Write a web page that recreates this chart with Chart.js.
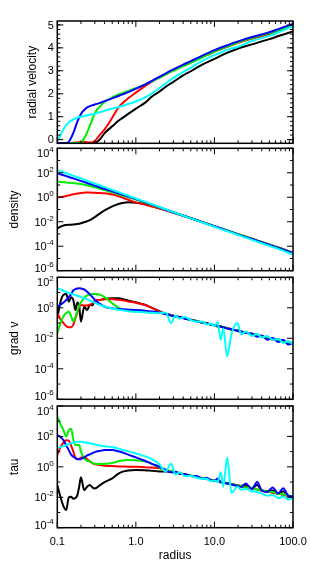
<!DOCTYPE html>
<html>
<head>
<meta charset="utf-8">
<script src="https://cdn.jsdelivr.net/npm/chart.js@4.4.1/dist/chart.umd.min.js"></script>
<style>
  html, body { margin: 0; padding: 0; background: #fff; }
  #wrap { position: relative; width: 311px; height: 568px; }
  #wrap canvas { position: absolute; left: 0; top: 0; }
</style>
</head>
<body>
<div id="wrap">
  <canvas id="velocity" width="311" height="568"></canvas>
  <canvas id="density" width="311" height="568"></canvas>
  <canvas id="gradv" width="311" height="568"></canvas>
  <canvas id="tau" width="311" height="568"></canvas>
</div>
<script>
// radius grid for the two smooth panels
const radius = [0.1, 0.11, 0.12, 0.13, 0.14, 0.16, 0.18, 0.2, 0.23, 0.26, 0.3, 0.35, 0.4, 0.5, 0.6, 0.7, 0.8, 1.0,
  1.3, 1.6, 2, 2.5, 3, 4, 5, 7, 10, 15, 20, 30, 50, 70, 100];

// radial velocity
const velBlack = [-0.15, -0.15, -0.15, -0.15, -0.15, -0.15, -0.15, -0.15, -0.15, -0.15, -0.14, 0.02, 0.28, 0.58, 0.82, 0.98, 1.12, 1.35,
  1.6, 1.88, 2.1, 2.35, 2.52, 2.8, 2.98, 3.27, 3.52, 3.8, 3.97, 4.15, 4.38, 4.55, 4.71];
const velRed = [-0.15, -0.15, -0.15, -0.15, -0.15, -0.14, -0.12, -0.1, -0.1, -0.12, -0.06, 0.22, 0.45, 0.95, 1.4, 1.63, 1.8, 2.05,
  2.33, 2.53, 2.72, 2.9, 3.02, 3.22, 3.37, 3.6, 3.83, 4.06, 4.22, 4.4, 4.6, 4.78, 4.97];
const velGreen = [-0.15, -0.15, -0.15, -0.15, -0.15, -0.15, -0.15, -0.13, 0.18, 0.6, 1.15, 1.45, 1.64, 1.84, 1.97, 2.05, 2.12, 2.24,
  2.4, 2.54, 2.7, 2.87, 3.0, 3.2, 3.35, 3.59, 3.84, 4.08, 4.24, 4.43, 4.64, 4.82, 5.0];
const velBlue = [-0.15, -0.15, -0.15, -0.15, -0.1, 0.29, 0.78, 1.12, 1.36, 1.46, 1.53, 1.6, 1.68, 1.8, 1.9, 1.99, 2.07, 2.22,
  2.4, 2.56, 2.74, 2.92, 3.06, 3.27, 3.42, 3.66, 3.9, 4.13, 4.28, 4.47, 4.68, 4.86, 5.04];
const velCyan = [-0.05, 0.2, 0.45, 0.63, 0.75, 0.88, 0.96, 1.0, 1.04, 1.08, 1.13, 1.2, 1.26, 1.35, 1.42, 1.49, 1.55, 1.66,
  1.83, 2.02, 2.25, 2.5, 2.68, 2.95, 3.14, 3.43, 3.68, 3.93, 4.05, 4.3, 4.52, 4.72, 4.95];

// density, log10
const densBlack = [-2.54, -2.4, -2.3, -2.27, -2.25, -2.22, -2.18, -2.12, -2.0, -1.86, -1.62, -1.31, -1.08, -0.75, -0.55, -0.44, -0.41, -0.45,
  -0.56, -0.7, -0.9, -1.1, -1.26, -1.52, -1.72, -2.04, -2.38, -2.76, -3.03, -3.4, -3.87, -4.19, -4.55];
const densRed = [0.0, 0.02, 0.05, 0.1, 0.15, 0.24, 0.3, 0.35, 0.38, 0.38, 0.36, 0.34, 0.32, 0.22, 0.08, -0.06, -0.2, -0.42,
  -0.6, -0.75, -0.92, -1.09, -1.24, -1.5, -1.71, -2.03, -2.37, -2.75, -3.02, -3.39, -3.86, -4.17, -4.52];
const densGreen = [1.27, 1.25, 1.23, 1.21, 1.19, 1.16, 1.13, 1.08, 1.0, 0.92, 0.82, 0.7, 0.59, 0.4, 0.25, 0.12, 0.01, -0.18,
  -0.42, -0.62, -0.84, -1.05, -1.22, -1.49, -1.7, -2.02, -2.36, -2.74, -3.01, -3.39, -3.86, -4.18, -4.53];
const densBlue = [1.96, 1.88, 1.8, 1.73, 1.66, 1.54, 1.43, 1.33, 1.2, 1.08, 0.95, 0.8, 0.68, 0.48, 0.32, 0.18, 0.06, -0.15,
  -0.4, -0.6, -0.82, -1.04, -1.22, -1.49, -1.71, -2.03, -2.37, -2.75, -3.03, -3.41, -3.89, -4.21, -4.56];
const densCyan = [2.23, 2.13, 2.05, 1.96, 1.89, 1.75, 1.64, 1.53, 1.39, 1.26, 1.12, 0.96, 0.83, 0.6, 0.42, 0.26, 0.12, -0.1,
  -0.36, -0.57, -0.8, -1.03, -1.21, -1.5, -1.73, -2.06, -2.41, -2.8, -3.08, -3.48, -3.97, -4.3, -4.68];

// finer radius grid for the noisy panels
const radiusFine = [0.1, 0.11, 0.12, 0.13, 0.14, 0.15, 0.16, 0.17, 0.18, 0.19, 0.2, 0.22, 0.24, 0.26, 0.28, 0.3, 0.35, 0.4,
  0.5, 0.6, 0.7, 0.8, 1.0, 1.3, 1.6, 2.0, 2.4, 2.8, 3.2, 3.6, 4.2, 5, 6, 7, 8, 9, 10, 11, 12, 13, 14.5, 16.5, 19.6,
  22, 25, 30, 35, 40, 47, 55, 65, 75, 87, 100];

// grad v, log10
const gradBlack = [-0.69, 0.4, 0.85, 0.9, 0.4, 0.7, 0.5, -0.15, 0.35, 0.1, -0.91, 0.07, -0.15, 0.2, 0.15, 0.45, 0.52, 0.58,
  0.62, 0.62, 0.55, 0.47, 0.36, 0.2, 0.0, -0.22, -0.42, -0.5, -0.54, -0.63, -0.68, -0.8, -0.86, -0.98, -1.0, -1.12, -1.12,
  -1.24, -1.2, -1.32, -1.3, -1.45, -1.45, -1.6, -1.58, -1.76, -1.75, -1.92, -1.9, -2.1, -2.05, -2.25, -2.22, -2.38];
const gradRed = [-0.36, -0.75, -1.0, -1.2, -1.28, -1.28, -1.1, -0.7, -0.3, 0.05, 0.18, 0.15, 0.15, 0.2, 0.3, 0.45, 0.52, 0.56,
  0.56, 0.52, 0.47, 0.42, 0.33, 0.18, 0.0, -0.25, -0.38, -0.47, -0.56, -0.61, -0.7, -0.79, -0.88, -0.96, -1.03, -1.09, -1.15,
  -1.2, -1.24, -1.28, -1.34, -1.41, -1.5, -1.56, -1.63, -1.72, -1.8, -1.87, -1.96, -2.04, -2.13, -2.2, -2.28, -2.35];
const gradGreen = [-1.67, -1.0, -0.55, -0.35, -0.25, -0.55, -0.9, -0.6, -0.2, 0.15, 0.35, 0.65, 0.82, 0.86, 0.9, 0.9, 0.86, 0.7,
  0.3, 0.0, -0.15, -0.2, -0.25, -0.28, -0.3, -0.3, -0.42, -0.48, -0.58, -0.6, -0.7, -0.8, -0.86, -0.98, -1.02, -1.1, -1.13,
  -1.22, -1.22, -1.3, -1.33, -1.43, -1.48, -1.58, -1.6, -1.75, -1.78, -1.9, -1.92, -2.08, -2.1, -2.25, -2.25, -2.35];
const gradBlue = [0.07, 0.2, 0.35, 0.51, 0.7, 0.9, 1.15, 1.22, 1.26, 1.28, 1.27, 1.2, 1.05, 0.88, 0.7, 0.52, 0.25, 0.07,
  -0.03, -0.08, -0.1, -0.12, -0.15, -0.2, -0.25, -0.32, -0.4, -0.5, -0.55, -0.6, -0.72, -0.78, -0.9, -0.95, -1.05, -1.08, -1.17,
  -1.18, -1.25, -1.27, -1.36, -1.4, -1.52, -1.55, -1.66, -1.68, -1.9, -1.82, -2.1, -1.98, -2.25, -2.1, -2.4, -2.3];
const gradCyan = [1.28, 1.2, 1.12, 1.05, 0.98, 0.93, 0.88, 0.83, 0.79, 0.75, 0.71, 0.63, 0.55, 0.47, 0.4, 0.33, 0.18, 0.08,
  -0.05, -0.13, -0.18, -0.22, -0.26, -0.3, -0.33, -0.36, -0.3, -1.0, -0.5, -0.72, -0.6, -0.8, -0.92, -0.9, -1.1, -1.05, -1.2,
  -0.95, -2.1, -1.35, -3.2, -1.7, -1.0, -1.75, -1.55, -1.85, -1.7, -1.95, -1.85, -2.1, -2.05, -2.3, -2.2, -2.4];

// tau, log10
const tauBlack = [-1.2, -2.0, -2.6, -2.84, -2.0, -1.97, -2.1, -2.05, -1.86, -1.3, -0.69, -1.53, -1.3, -1.2, -1.35, -1.42, -1.2, -1.0,
  -0.76, -0.45, -0.3, -0.24, -0.21, -0.22, -0.26, -0.3, -0.3, -0.32, -0.4, -0.42, -0.5, -0.6, -0.65, -0.75, -0.78, -0.87, -0.88,
  -0.85, -1.0, -1.02, -1.1, -1.13, -1.22, -1.26, -1.2, -1.42, -1.2, -1.56, -1.6, -1.55, -1.78, -1.6, -1.92, -1.97];
const tauRed = [0.78, 1.3, 1.6, 1.75, 1.72, 1.4, 1.0, 0.6, 0.5, 0.52, 0.6, 0.66, 0.5, 0.36, 0.25, 0.18, 0.12, 0.08,
  0.05, 0.03, 0.02, 0.01, 0.0, -0.02, -0.05, -0.1, -0.22, -0.3, -0.35, -0.43, -0.49, -0.59, -0.65, -0.74, -0.79, -0.86, -0.9,
  -0.96, -0.98, -1.03, -1.07, -1.15, -1.21, -1.28, -1.32, -1.42, -1.48, -1.56, -1.61, -1.71, -1.76, -1.85, -1.9, -1.98];
const tauGreen = [3.3, 2.8, 2.4, 2.0, 2.4, 2.5, 1.8, 1.45, 1.43, 1.45, 1.0, 0.55, 0.4, 0.34, 0.26, 0.2, 0.18, 0.2,
  0.25, 0.37, 0.42, 0.45, 0.44, 0.36, 0.2, -0.05, -0.25, -0.28, -0.38, -0.4, -0.52, -0.56, -0.68, -0.72, -0.82, -0.84, -0.92,
  -0.93, -1.0, -1.0, -1.1, -1.12, -1.24, -1.25, -1.35, -1.38, -1.5, -1.52, -1.63, -1.65, -1.78, -1.8, -1.9, -1.95];
const tauBlue = [2.09, 1.95, 1.75, 1.4, 1.1, 0.8, 0.66, 0.58, 0.52, 0.5, 0.52, 0.62, 0.75, 0.82, 0.9, 0.97, 1.05, 1.1,
  1.1, 1.02, 0.92, 0.8, 0.62, 0.4, 0.2, 0.0, -0.2, -0.35, -0.32, -0.45, -0.48, -0.6, -0.62, -0.78, -0.72, -0.88, -0.92,
  -0.76, -1.02, -1.05, -1.08, -1.16, -1.25, -1.32, -1.1, -1.45, -1.0, -1.55, -1.65, -1.35, -1.75, -1.4, -1.9, -1.95];
const tauCyan = [1.22, 1.3, 1.36, 1.42, 1.5, 1.56, 1.6, 1.63, 1.65, 1.65, 1.64, 1.62, 1.59, 1.55, 1.52, 1.48, 1.4, 1.35,
  1.3, 1.2, 1.1, 1.02, 0.88, 0.7, 0.5, 0.15, -0.3, 0.2, -0.5, -0.35, -0.6, -0.6, -0.72, -0.8, -0.78, -0.95, -0.9,
  -1.0, -0.35, -1.3, 0.62, -1.7, -1.3, -1.5, -1.45, -1.6, -1.65, -1.75, -1.9, -1.85, -2.05, -1.95, -2.15, -2.05];

// axis ticks
const xMajor = [0.1, 1, 10, 100];
const xLabels = ["0.1", "1.0", "10.0", "100.0"];
const velTicks = [0, 1, 2, 3, 4, 5];
const densTicks = [-6, -4, -2, 0, 2, 4];
const gradTicks = [-6, -4, -2, 0, 2];
const tauTicks = [-4, -2, 0, 2, 4];

const colors = ["#000000", "#ff0000", "#00ee00", "#0000ff", "#00ffff"];
const FONT = "'Liberation Sans', Arial, Helvetica, sans-serif";

function toPoints(rs, vs, isLog) {
  return rs.map((r, i) => ({ x: r, y: isLog ? Math.pow(10, vs[i]) : vs[i] }));
}

// frame with inward ticks on all sides, tick labels and titles
const framePlugin = {
  id: "frame",
  afterDraw(chart, args, opts) {
    const { ctx, chartArea: a } = chart;
    const xs = chart.scales.x, ys = chart.scales.y;
    ctx.save();
    ctx.strokeStyle = "#000";
    ctx.lineWidth = 1;
    ctx.beginPath();
    const xTick = (v, len) => {
      const p = xs.getPixelForValue(v);
      ctx.moveTo(p, a.bottom); ctx.lineTo(p, a.bottom - len);
      ctx.moveTo(p, a.top); ctx.lineTo(p, a.top + len);
    };
    const yTick = (v, len) => {
      const p = ys.getPixelForValue(v);
      if (p < a.top - 0.5 || p > a.bottom + 0.5) return;
      ctx.moveTo(a.left, p); ctx.lineTo(a.left + len, p);
      ctx.moveTo(a.right, p); ctx.lineTo(a.right - len, p);
    };
    xMajor.forEach(v => xTick(v, 6));
    [0.1, 1, 10].forEach(d => { for (let k = 2; k <= 9; k++) xTick(d * k, 3); });
    if (opts.log) {
      const lo = opts.ticks[0], hi = opts.ticks[opts.ticks.length - 1];
      for (let e = lo; e <= hi; e++) yTick(Math.pow(10, e), opts.ticks.includes(e) ? 6 : 3);
    } else {
      opts.ticks.forEach(v => yTick(v, 6));
      for (let v = -0.2; v < 5.3; v += 0.2) yTick(v, 3);
    }
    ctx.stroke();
    ctx.lineWidth = 1.5;
    ctx.strokeRect(a.left, a.top, a.right - a.left, a.bottom - a.top);

    ctx.fillStyle = "#000";
    const xr = a.left - 3.5;
    opts.ticks.forEach(t => {
      let p = ys.getPixelForValue(opts.log ? Math.pow(10, t) : t);
      p = Math.min(Math.max(p, a.top + 5), a.bottom - 3);
      if (opts.log) {
        const sup = t < 0 ? "-" + Math.abs(t) : String(t);
        ctx.font = "8px " + FONT;
        const ws = ctx.measureText(sup).width;
        ctx.font = "11px " + FONT;
        const wb = ctx.measureText("10").width;
        ctx.textAlign = "left";
        ctx.textBaseline = "alphabetic";
        ctx.fillText("10", xr - ws - wb, p + 4);
        ctx.font = "8px " + FONT;
        ctx.fillText(sup, xr - ws, p - 1);
      } else {
        ctx.font = "11px " + FONT;
        ctx.textAlign = "right";
        ctx.textBaseline = "middle";
        ctx.fillText(String(t), xr, p);
      }
    });

    ctx.font = "12px " + FONT;
    ctx.textAlign = "center";
    ctx.textBaseline = "middle";
    ctx.save();
    ctx.translate(opts.titleX, (a.top + a.bottom) / 2);
    ctx.rotate(-Math.PI / 2);
    ctx.fillText(opts.title, 0, 0);
    ctx.restore();

    if (opts.xAxis) {
      ctx.font = "11px " + FONT;
      xMajor.forEach((v, i) => ctx.fillText(xLabels[i], xs.getPixelForValue(v), a.bottom + 14));
      ctx.font = "12px " + FONT;
      ctx.fillText("radius", (a.left + a.right) / 2, a.bottom + 28);
    }
    ctx.restore();
  }
};

function makePanel(id, rs, series, isLog, yMin, yMax, top, bottom, frame) {
  const datasets = series.map((vs, i) => ({
    data: toPoints(rs, vs, isLog),
    borderColor: colors[i],
    borderWidth: 2,
    pointRadius: 0,
    fill: false,
    cubicInterpolationMode: "monotone",
    order: series.length - i
  }));
  new Chart(document.getElementById(id), {
    type: "line",
    data: { datasets },
    options: {
      responsive: false,
      devicePixelRatio: 1,
      animation: false,
      events: [],
      layout: { padding: { left: 57.3, right: 18, top: top, bottom: 568 - bottom } },
      scales: {
        x: { type: "logarithmic", min: 0.1, max: 100, display: false },
        y: { type: isLog ? "logarithmic" : "linear", min: yMin, max: yMax, display: false }
      },
      plugins: { legend: { display: false }, tooltip: { enabled: false }, frame }
    },
    plugins: [framePlugin]
  });
}

makePanel("velocity", radius, [velBlack, velRed, velGreen, velBlue, velCyan], false, -0.16, 5.17, 21, 143.3,
  { log: false, ticks: velTicks, title: "radial velocity", titleX: 33 });
makePanel("density", radius, [densBlack, densRed, densGreen, densBlue, densCyan], true, 1e-6, 1e4, 148.3, 270.7,
  { log: true, ticks: densTicks, title: "density", titleX: 15 });
makePanel("gradv", radiusFine, [gradBlack, gradRed, gradGreen, gradBlue, gradCyan], true, 1e-6, 1e2, 277.3, 399.3,
  { log: true, ticks: gradTicks, title: "grad v", titleX: 15 });
makePanel("tau", radiusFine, [tauBlack, tauRed, tauGreen, tauBlue, tauCyan], true, 1e-4, 1e4, 406, 527.7,
  { log: true, ticks: tauTicks, title: "tau", titleX: 15, xAxis: true });
</script>
</body>
</html>
